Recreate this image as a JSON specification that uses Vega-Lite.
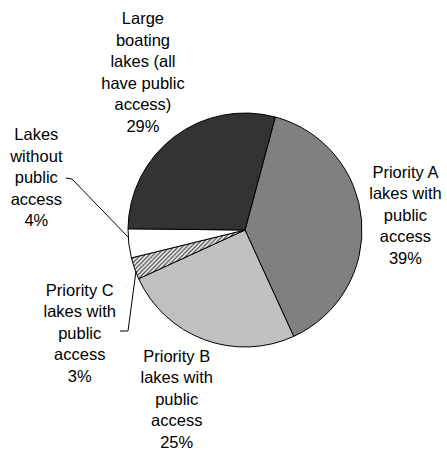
{
  "$schema": "https://vega.github.io/schema/vega-lite/v6.json",
  "width": 404,
  "height": 440,
  "padding": {"left": 43, "top": 10, "right": 0, "bottom": 0},
  "autosize": {"type": "none"},
  "background": "white",
  "config": {"view": {"stroke": null}},
  "datasets": {
    "slices": [
      {"cat": "A", "k": 1, "v": 39, "label": "Priority A\nlakes with\npublic\naccess\n39%"},
      {"cat": "B", "k": 2, "v": 25, "label": "Priority B\nlakes with\npublic\naccess\n25%"},
      {"cat": "C", "k": 3, "v": 3, "label": "Priority C\nlakes with\npublic\naccess\n3%"},
      {"cat": "W", "k": 4, "v": 4, "label": "Lakes\nwithout\npublic\naccess\n4%"},
      {"cat": "L", "k": 5, "v": 29, "label": "Large\nboating\nlakes (all\nhave public\naccess)\n29%"}
    ],
    "leaders": [
      {"id": "W", "i": 1, "x": -179, "y": -52},
      {"id": "W", "i": 2, "x": -173, "y": -51},
      {"id": "W", "i": 3, "x": -116, "y": 8},
      {"id": "C", "i": 1, "x": -109, "y": 41},
      {"id": "C", "i": 2, "x": -117, "y": 101},
      {"id": "C", "i": 3, "x": -125, "y": 101}
    ]
  },
  "layer": [
    {
      "data": {"name": "slices"},
      "mark": {"type": "arc", "outerRadius": 117, "stroke": "black", "strokeWidth": 1},
      "encoding": {
        "theta": {"field": "v", "type": "quantitative", "stack": true, "scale": {"domain": [0, 100], "range": [0.2618, 6.545]}},
        "order": {"field": "k", "type": "quantitative"},
        "fill": {
          "field": "cat", "type": "nominal", "legend": null,
          "scale": {"domain": ["A", "B", "C", "W", "L"], "range": ["#808080", "#c0c0c0", "#aaaaaa", "#ffffff", "#333333"]},
          "condition": {"test": "datum.cat === 'C'", "value": {
            "gradient": "linear", "x1": 0, "y1": 0, "x2": 1.2, "y2": 0.505,
            "stops": [
              {"offset": 0, "color": "#5a5a5a"}, {"offset": 0.01316, "color": "#ffffff"},
              {"offset": 0.02632, "color": "#5a5a5a"}, {"offset": 0.03947, "color": "#ffffff"},
              {"offset": 0.05263, "color": "#5a5a5a"}, {"offset": 0.06579, "color": "#ffffff"},
              {"offset": 0.07895, "color": "#5a5a5a"}, {"offset": 0.09211, "color": "#ffffff"},
              {"offset": 0.10526, "color": "#5a5a5a"}, {"offset": 0.11842, "color": "#ffffff"},
              {"offset": 0.13158, "color": "#5a5a5a"}, {"offset": 0.14474, "color": "#ffffff"},
              {"offset": 0.15789, "color": "#5a5a5a"}, {"offset": 0.17105, "color": "#ffffff"},
              {"offset": 0.18421, "color": "#5a5a5a"}, {"offset": 0.19737, "color": "#ffffff"},
              {"offset": 0.21053, "color": "#5a5a5a"}, {"offset": 0.22368, "color": "#ffffff"},
              {"offset": 0.23684, "color": "#5a5a5a"}, {"offset": 0.25, "color": "#ffffff"},
              {"offset": 0.26316, "color": "#5a5a5a"}, {"offset": 0.27632, "color": "#ffffff"},
              {"offset": 0.28947, "color": "#5a5a5a"}, {"offset": 0.30263, "color": "#ffffff"},
              {"offset": 0.31579, "color": "#5a5a5a"}, {"offset": 0.32895, "color": "#ffffff"},
              {"offset": 0.34211, "color": "#5a5a5a"}, {"offset": 0.35526, "color": "#ffffff"},
              {"offset": 0.36842, "color": "#5a5a5a"}, {"offset": 0.38158, "color": "#ffffff"},
              {"offset": 0.39474, "color": "#5a5a5a"}, {"offset": 0.40789, "color": "#ffffff"},
              {"offset": 0.42105, "color": "#5a5a5a"}, {"offset": 0.43421, "color": "#ffffff"},
              {"offset": 0.44737, "color": "#5a5a5a"}, {"offset": 0.46053, "color": "#ffffff"},
              {"offset": 0.47368, "color": "#5a5a5a"}, {"offset": 0.48684, "color": "#ffffff"},
              {"offset": 0.5, "color": "#5a5a5a"}, {"offset": 0.51316, "color": "#ffffff"},
              {"offset": 0.52632, "color": "#5a5a5a"}, {"offset": 0.53947, "color": "#ffffff"},
              {"offset": 0.55263, "color": "#5a5a5a"}, {"offset": 0.56579, "color": "#ffffff"},
              {"offset": 0.57895, "color": "#5a5a5a"}, {"offset": 0.59211, "color": "#ffffff"},
              {"offset": 0.60526, "color": "#5a5a5a"}, {"offset": 0.61842, "color": "#ffffff"},
              {"offset": 0.63158, "color": "#5a5a5a"}, {"offset": 0.64474, "color": "#ffffff"},
              {"offset": 0.65789, "color": "#5a5a5a"}, {"offset": 0.67105, "color": "#ffffff"},
              {"offset": 0.68421, "color": "#5a5a5a"}, {"offset": 0.69737, "color": "#ffffff"},
              {"offset": 0.71053, "color": "#5a5a5a"}, {"offset": 0.72368, "color": "#ffffff"},
              {"offset": 0.73684, "color": "#5a5a5a"}, {"offset": 0.75, "color": "#ffffff"},
              {"offset": 0.76316, "color": "#5a5a5a"}, {"offset": 0.77632, "color": "#ffffff"},
              {"offset": 0.78947, "color": "#5a5a5a"}, {"offset": 0.80263, "color": "#ffffff"},
              {"offset": 0.81579, "color": "#5a5a5a"}, {"offset": 0.82895, "color": "#ffffff"},
              {"offset": 0.84211, "color": "#5a5a5a"}, {"offset": 0.85526, "color": "#ffffff"},
              {"offset": 0.86842, "color": "#5a5a5a"}, {"offset": 0.88158, "color": "#ffffff"},
              {"offset": 0.89474, "color": "#5a5a5a"}, {"offset": 0.90789, "color": "#ffffff"},
              {"offset": 0.92105, "color": "#5a5a5a"}, {"offset": 0.93421, "color": "#ffffff"},
              {"offset": 0.94737, "color": "#5a5a5a"}, {"offset": 0.96053, "color": "#ffffff"},
              {"offset": 0.97368, "color": "#5a5a5a"}, {"offset": 0.98684, "color": "#ffffff"},
              {"offset": 1, "color": "#5a5a5a"}
            ]
          }}
        }
      }
    },
    {
      "data": {"name": "slices"},
      "mark": {"type": "text", "radius": 161, "dx": 0, "dy": -44, "lineBreak": "\n", "font": "Liberation Sans", "fontSize": 16.5, "lineHeight": 21.5, "align": "center", "baseline": "middle", "color": "black"},
      "encoding": {
        "theta": {"field": "v", "type": "quantitative", "stack": true, "scale": {"domain": [0, 100], "range": [0.2618, 6.545]}},
        "order": {"field": "k", "type": "quantitative"},
        "detail": {"field": "cat", "type": "nominal"},
        "text": {"condition": {"test": "datum.cat === 'A'", "field": "label", "type": "nominal"}, "value": ""}
      }
    },
    {
      "data": {"name": "slices"},
      "mark": {"type": "text", "radius": 183, "dx": -4.5, "dy": -45, "lineBreak": "\n", "font": "Liberation Sans", "fontSize": 16.5, "lineHeight": 21.5, "align": "center", "baseline": "middle", "color": "black"},
      "encoding": {
        "theta": {"field": "v", "type": "quantitative", "stack": true, "scale": {"domain": [0, 100], "range": [0.2618, 6.545]}},
        "order": {"field": "k", "type": "quantitative"},
        "detail": {"field": "cat", "type": "nominal"},
        "text": {"condition": {"test": "datum.cat === 'B'", "field": "label", "type": "nominal"}, "value": ""}
      }
    },
    {
      "data": {"name": "slices"},
      "mark": {"type": "text", "radius": 175, "dx": 0, "dy": 3, "lineBreak": "\n", "font": "Liberation Sans", "fontSize": 16.5, "lineHeight": 21.5, "align": "center", "baseline": "middle", "color": "black"},
      "encoding": {
        "theta": {"field": "v", "type": "quantitative", "stack": true, "scale": {"domain": [0, 100], "range": [0.2618, 6.545]}},
        "order": {"field": "k", "type": "quantitative"},
        "detail": {"field": "cat", "type": "nominal"},
        "text": {"condition": {"test": "datum.cat === 'C'", "field": "label", "type": "nominal"}, "value": ""}
      }
    },
    {
      "data": {"name": "slices"},
      "mark": {"type": "text", "radius": 200, "dx": -10, "dy": -117.5, "lineBreak": "\n", "font": "Liberation Sans", "fontSize": 16.5, "lineHeight": 21.5, "align": "center", "baseline": "middle", "color": "black"},
      "encoding": {
        "theta": {"field": "v", "type": "quantitative", "stack": true, "scale": {"domain": [0, 100], "range": [0.2618, 6.545]}},
        "order": {"field": "k", "type": "quantitative"},
        "detail": {"field": "cat", "type": "nominal"},
        "text": {"condition": {"test": "datum.cat === 'W'", "field": "label", "type": "nominal"}, "value": ""}
      }
    },
    {
      "data": {"name": "slices"},
      "mark": {"type": "text", "radius": 187, "dx": 11, "dy": -61.75, "lineBreak": "\n", "font": "Liberation Sans", "fontSize": 16.5, "lineHeight": 21.5, "align": "center", "baseline": "middle", "color": "black"},
      "encoding": {
        "theta": {"field": "v", "type": "quantitative", "stack": true, "scale": {"domain": [0, 100], "range": [0.2618, 6.545]}},
        "order": {"field": "k", "type": "quantitative"},
        "detail": {"field": "cat", "type": "nominal"},
        "text": {"condition": {"test": "datum.cat === 'L'", "field": "label", "type": "nominal"}, "value": ""}
      }
    },
    {
      "data": {"name": "leaders"},
      "mark": {"type": "line", "stroke": "black", "strokeWidth": 1},
      "encoding": {
        "x": {"field": "x", "type": "quantitative", "scale": {"domain": [-202, 202]}, "axis": null},
        "y": {"field": "y", "type": "quantitative", "scale": {"domain": [-220, 220], "range": [0, 440]}, "axis": null},
        "detail": {"field": "id", "type": "nominal"},
        "order": {"field": "i", "type": "quantitative"}
      }
    }
  ]
}
